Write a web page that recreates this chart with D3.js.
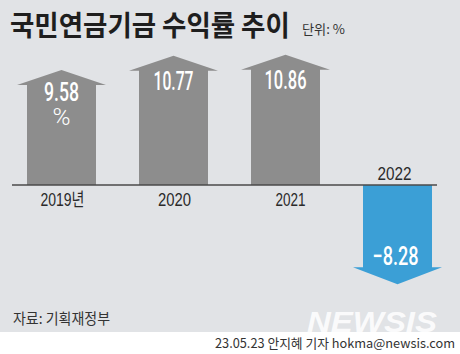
<!DOCTYPE html>
<html><head><meta charset="utf-8">
<script src="https://cdn.jsdelivr.net/npm/d3@7"></script>
<style>html,body{margin:0;padding:0;background:#fff;}svg{display:block;}</style>
</head><body>
<script>
const years = ["2019", "2020", "2021", "2022"];
const yearLabels = ["2019년", "2020", "2021", "2022"];
const values = [9.58, 10.77, 10.86, -8.28];
const valueLabels = ["9.58", "10.77", "10.86", "−8.28"];
const title = "국민연금기금 수익률 추이";
const unit = "단위: %";
const source = "자료: 기획재정부";
const credit = "23.05.23 안지혜 기자 hokma@newsis.com";

const W = 460, H = 354;
const svg = d3.select("body").append("svg").attr("width", W).attr("height", H);
svg.append("rect").attr("width", W).attr("height", 332).attr("fill", "#e1e3e6");
svg.append("rect").attr("y", 332).attr("width", W).attr("height", 22).attr("fill", "#ffffff");

const x = d3.scalePoint().domain(years).range([61.5, 397.5]);
const y = d3.scaleLinear().domain([0, 10]).range([185, 65]);

const bodyHalf = 34.5, headHalf = 44.5;
function arrowPath(cx, v) {
  const y0 = y(0), yt = y(v);
  const hl = v >= 0 ? 15 : 17;
  const ys = v >= 0 ? yt + hl : yt - hl;
  return `M${cx - bodyHalf},${y0} L${cx - bodyHalf},${ys} L${cx - headHalf},${ys} L${cx},${yt} L${cx + headHalf},${ys} L${cx + bodyHalf},${ys} L${cx + bodyHalf},${y0} Z`;
}

svg.selectAll("path.bar").data(values).enter().append("path")
  .attr("class", "bar")
  .attr("d", (d, i) => arrowPath(x(years[i]), d))
  .attr("fill", d => d >= 0 ? "#8d8d8d" : "#3b9fd6");

// baseline
svg.append("line").attr("x1", 12).attr("x2", 437).attr("y1", y(0)).attr("y2", y(0))
  .attr("stroke", "#4a4a4a").attr("stroke-width", 1.5);

// value labels (first one carries the unit on a second line)
const valLen = [35, 40, 42, 46];
const valBase = [101, 90, 89, 265];
const vals = svg.selectAll("text.val").data(valueLabels).enter().append("text")
  .attr("class", "val")
  .attr("font-family", "Roboto, 'Liberation Sans', sans-serif")
  .attr("font-size", 26).attr("fill", "#ffffff");
vals.append("tspan")
  .attr("x", (d, i) => x(years[i]) - valLen[i] / 2 + (i === 3 ? -2 : 0))
  .attr("y", (d, i) => valBase[i])
  .attr("textLength", (d, i) => valLen[i]).attr("lengthAdjust", "spacingAndGlyphs")
  .attr("font-weight", 500).text(d => d);
vals.filter((d, i) => i === 0).append("tspan")
  .attr("x", x(years[0]) - 9).attr("y", 125)
  .attr("textLength", 18).attr("lengthAdjust", "spacingAndGlyphs")
  .attr("font-weight", 300).attr("font-size", 24).text("%");

// year labels
const yrLen = [44, 33, 30, 34];
svg.selectAll("text.yr").data(yearLabels).enter().append("text")
  .attr("class", "yr")
  .attr("x", (d, i) => x(years[i]) - yrLen[i] / 2 + (i === 2 ? 5 : (i === 3 ? -3 : 1)))
  .attr("y", (d, i) => values[i] >= 0 ? 206 : 180)
  .attr("textLength", (d, i) => yrLen[i]).attr("lengthAdjust", "spacingAndGlyphs")
  .attr("font-family", "'Liberation Sans', 'Noto Sans CJK KR', sans-serif")
  .attr("font-size", 18).attr("fill", "#2a2a2a").text(d => d);

// title (condensed via transform)
const tt = svg.append("text")
  .attr("font-family", "'Noto Sans CJK KR', sans-serif").attr("font-weight", 700)
  .attr("font-size", 29).attr("fill", "#1e1e1e").text(title);
const tw = tt.node().getComputedTextLength();
tt.attr("transform", `translate(10,36) scale(${280 / tw},1)`);

svg.append("text").attr("x", 302).attr("y", 34)
  .attr("textLength", 43).attr("lengthAdjust", "spacingAndGlyphs")
  .attr("font-family", "'Noto Sans CJK KR', sans-serif")
  .attr("font-size", 13).attr("fill", "#333").text(unit);

// watermark
svg.append("text").attr("x", 307).attr("y", 332)
  .attr("textLength", 130).attr("lengthAdjust", "spacingAndGlyphs")
  .attr("font-family", "'Liberation Sans', sans-serif").attr("font-weight", 700).attr("font-style", "italic")
  .attr("font-size", 29).attr("fill", "#ffffff").attr("opacity", 0.85).text("NEWSIS");

// source
svg.append("text").attr("x", 13).attr("y", 324)
  .attr("textLength", 97).attr("lengthAdjust", "spacingAndGlyphs")
  .attr("font-family", "'Noto Sans CJK KR', sans-serif")
  .attr("font-size", 15).attr("fill", "#333").text(source);

// credit
svg.append("text").attr("x", 215).attr("y", 348)
  .attr("textLength", 240).attr("lengthAdjust", "spacingAndGlyphs")
  .attr("font-family", "'Noto Sans CJK KR', sans-serif")
  .attr("font-size", 13).attr("fill", "#333").text(credit);
</script>
</body></html>
